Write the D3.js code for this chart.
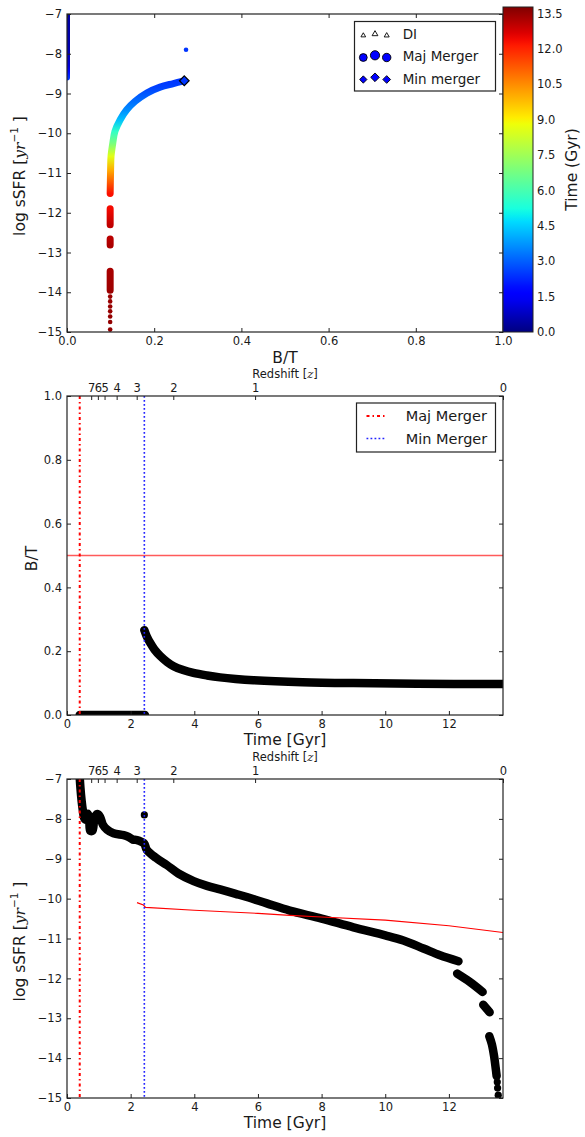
<!DOCTYPE html>
<html><head><meta charset="utf-8">
<script src="https://cdn.jsdelivr.net/npm/d3@7"></script>
<style>
body{margin:0;background:#fff}
svg{display:block}
text{font-family:"DejaVu Sans",sans-serif;fill:#1a1a1a}
</style>
</head><body><script>
// ---------------- DATA ----------------
// Panel 1: B/T vs log sSFR coloured by time
const btTicks = [0, 0.2, 0.4, 0.6, 0.8, 1.0];
const ssfrTicks = [-7, -8, -9, -10, -11, -12, -13, -14, -15];
const cbTicks = [0, 1.5, 3, 4.5, 6, 7.5, 9, 10.5, 12, 13.5];
const cbMax = 13.77;

const p1DiskBT   = [0, 0, 0, 0, 0];
const p1DiskSSFR = [-6.9, -7.9, -8.3, -8.45, -8.6];
const p1DiskTime = [0.4, 0.6, 1.0, 1.8, 2.4];

const p1BT   = [0.269, 0.244, 0.2135, 0.183, 0.156, 0.137, 0.122, 0.110, 0.105, 0.101, 0.100, 0.099, null, 0.099, 0.099, null, 0.099, 0.099, null, 0.099, 0.099];
const p1SSFR = [-8.68, -8.75, -8.84, -8.99, -9.2, -9.41, -9.66, -9.95, -10.25, -10.58, -10.92, -11.515, null, -11.9, -12.3, null, -12.66, -12.81, null, -13.47, -13.95];
const p1Time = [2.45, 2.5, 2.6, 2.85, 3.2, 3.6, 4.3, 5.6, 6.8, 8.6, 10.0, 12.3, null, 12.4, 13.0, null, 13.1, 13.25, null, 13.3, 13.42];

const p1DotBT   = [0.099, 0.099, 0.099, 0.099, 0.099, 0.099, 0.099];
const p1DotSSFR = [-14.11, -14.23, -14.36, -14.48, -14.61, -14.75, -14.94];
const p1DotTime = [13.45, 13.47, 13.49, 13.5, 13.52, 13.54, 13.56];

const outlierTime = 2.43, outlierBT = 0.273, outlierSSFR = -7.9;
const minMergerBT = 0.269, minMergerSSFR = -8.68, minMergerTimeP1 = 2.45;

const legend1Labels = ["DI", "Maj Merger", "Min merger"];

// Panels 2 & 3: vs time
const timeTicks = [0, 2, 4, 6, 8, 10, 12];
const timeMax = 13.7;
const btYTicks = [0, 0.2, 0.4, 0.6, 0.8, 1.0];
const redshiftLabels = ["7", "6", "5", "4", "3", "2", "1", "0"];
const redshiftTimes  = [0.76, 0.97, 1.18, 1.56, 2.19, 3.34, 5.91, 13.7];
const majMergerTime = 0.4;
const minMergerTime = 2.43;
const btThreshold = 0.5;

const p2Time = [0.4, 2.45, null, 2.43, 2.5, 2.62, 2.75, 2.93, 3.15, 3.35, 3.65, 3.97, 4.4, 4.81, 5.3, 5.86, 7.4, 9.0, 11.0, 13.7];
const p2BT   = [0, 0, null, 0.266, 0.248, 0.225, 0.205, 0.185, 0.166, 0.153, 0.141, 0.132, 0.124, 0.118, 0.113, 0.109, 0.103, 0.100, 0.098, 0.097];

const p3Time = [0.38, 0.42, 0.46, 0.5, 0.54, 0.6, 0.65, 0.7, 0.73, 0.8, 0.85, 0.9, 0.96, 1.04, 1.13, 1.26, 1.46, 1.78, 1.93, 2.07, 2.2, 2.35, 2.43, 2.51, 2.8, 3.14, 3.5, 3.98, 4.4, 4.81, 5.3, 5.65, 6.28, 7.0, 8.0, 9.0, 10.0, 10.57, 11.2, 11.72, 12.3,
                null, 12.26, 12.66, 13.06, null, 13.08, 13.28, null, 13.27, 13.35, 13.42, 13.47, 13.5];
const p3SSFR = [-6.7, -7.2, -7.55, -7.8, -7.98, -8.02, -7.87, -8.05, -8.3, -8.3, -8.05, -7.92, -7.88, -7.95, -8.15, -8.27, -8.36, -8.41, -8.45, -8.52, -8.53, -8.58, -8.62, -8.78, -8.98, -9.16, -9.37, -9.56, -9.68, -9.77, -9.88, -9.96, -10.12, -10.3, -10.5, -10.72, -10.92, -11.05, -11.25, -11.42, -11.57,
                null, -11.88, -12.09, -12.34, null, -12.66, -12.85, null, -13.45, -13.65, -13.95, -14.25, -14.45];
const p3DotTime = [2.43, 13.52, 13.53, 13.55];
const p3DotSSFR = [-7.9, -14.6, -14.75, -14.93];

const p3RefTime = [2.2, 2.4, 2.47, 4, 6, 7, 8, 10, 12, 13.7];
const p3RefSSFR = [-10.1, -10.16, -10.22, -10.29, -10.37, -10.42, -10.46, -10.54, -10.68, -10.85];

const legend2Labels = ["Maj Merger", "Min Merger"];

// ---------------- HELPERS ----------------
const jetR = d3.scaleLinear().domain([0, 0.35, 0.66, 0.89, 1]).range([0, 0, 1, 1, 0.5]).clamp(true);
const jetG = d3.scaleLinear().domain([0, 0.125, 0.375, 0.64, 0.91, 1]).range([0, 0, 1, 1, 0, 0]).clamp(true);
const jetB = d3.scaleLinear().domain([0, 0.11, 0.34, 0.65, 1]).range([0.5, 1, 1, 0, 0]).clamp(true);
const tNorm = d3.scaleLinear().domain([0, cbMax]).range([0, 1]).clamp(true);
const jet = t => { const v = tNorm(t); return d3.rgb(255 * jetR(v), 255 * jetG(v), 255 * jetB(v)).formatHex(); };

const W = 585, H = 1137;
const svg = d3.select("body").append("svg").attr("width", W).attr("height", H);
const defs = svg.append("defs");
const FONT = '"DejaVu Sans", sans-serif';
const AX = "#222";

const P1 = {l: 67, r: 503, t: 14, b: 332, id: 1};
const P2 = {l: 67, r: 503, t: 396, b: 715, id: 2};
const P3 = {l: 67, r: 503, t: 779, b: 1098, id: 3};

function clip(P) {
  defs.append("clipPath").attr("id", "c" + P.id).append("rect")
    .attr("x", P.l).attr("y", P.t).attr("width", P.r - P.l).attr("height", P.b - P.t);
}
clip(P1); clip(P2); clip(P3);

function styleAxis(g, size) {
  g.attr("font-family", FONT).attr("font-size", size).attr("color", AX);
  g.select(".domain").remove();
  g.selectAll("text").attr("fill", "#1a1a1a");
}

function frame(P) {
  svg.append("rect").attr("x", P.l).attr("y", P.t).attr("width", P.r - P.l).attr("height", P.b - P.t)
    .attr("fill", "none").attr("stroke", AX).attr("stroke-width", 1.2);
}

function yLabelSSFR(cx, cy) {
  const t = svg.append("text").attr("transform", `translate(${cx},${cy}) rotate(-90)`)
    .attr("text-anchor", "middle").attr("dominant-baseline", "central").attr("font-size", 15.5);
  t.append("tspan").text("log sSFR [");
  t.append("tspan").attr("font-family", '"DejaVu Serif", serif').attr("font-style", "italic").text("yr");
  t.append("tspan").attr("dy", -6).attr("font-size", 10.5).text("−1");
  t.append("tspan").attr("dy", 6).text(" ]");
}

function redshiftAxis(P, x) {
  const g = svg.append("g").attr("transform", `translate(0,${P.t})`)
    .call(d3.axisTop(x).tickValues(redshiftTimes).tickFormat((d, i) => redshiftLabels[i]).tickSize(-4).tickPadding(4));
  styleAxis(g, 11.5);
  const t = svg.append("text").attr("x", (P.l + P.r) / 2).attr("y", P.t - 18)
    .attr("text-anchor", "middle").attr("font-size", 11.5);
  t.append("tspan").text("Redshift [");
  t.append("tspan").attr("font-family", '"DejaVu Serif", serif').attr("font-style", "italic").text("z");
  t.append("tspan").text("]");
}

function mergerLines(P, x) {
  const g = svg.append("g").attr("clip-path", "url(#c" + P.id + ")");
  g.append("line").attr("x1", x(majMergerTime)).attr("x2", x(majMergerTime)).attr("y1", P.t).attr("y2", P.b)
    .attr("stroke", "#ff0000").attr("stroke-width", 2).attr("stroke-dasharray", "3,3,1.5,3");
  g.append("line").attr("x1", x(minMergerTime)).attr("x2", x(minMergerTime)).attr("y1", P.t).attr("y2", P.b)
    .attr("stroke", "#2222ff").attr("stroke-width", 1.6).attr("stroke-dasharray", "1.8,2.2");
}

// ---------------- PANEL 1 ----------------
const x1 = d3.scaleLinear().domain([0, 1]).range([P1.l, P1.r]);
const y1 = d3.scaleLinear().domain([-15, -7]).range([P1.b, P1.t]);

const mainPts = p1SSFR.map((s, i) => ({s, t: p1Time[i]})).filter(d => d.s != null)
  .concat(p1DotSSFR.map((s, i) => ({s, t: p1DotTime[i]})));
const gy1 = y1(d3.max(mainPts, d => d.s)), gy2 = y1(d3.min(mainPts, d => d.s));
const g1 = defs.append("linearGradient").attr("id", "gMain").attr("gradientUnits", "userSpaceOnUse")
  .attr("x1", 0).attr("x2", 0).attr("y1", gy1).attr("y2", gy2);
mainPts.sort((a, b) => b.s - a.s).forEach(d => {
  g1.append("stop").attr("offset", (y1(d.s) - gy1) / (gy2 - gy1)).attr("stop-color", jet(d.t));
});
const dy1 = y1(p1DiskSSFR[0]), dy2 = y1(p1DiskSSFR[p1DiskSSFR.length - 1]);
const gd = defs.append("linearGradient").attr("id", "gDisk").attr("gradientUnits", "userSpaceOnUse")
  .attr("x1", 0).attr("x2", 0).attr("y1", dy1).attr("y2", dy2);
p1DiskSSFR.forEach((s, i) => gd.append("stop").attr("offset", (y1(s) - dy1) / (dy2 - dy1)).attr("stop-color", jet(p1DiskTime[i])));

const p1g = svg.append("g").attr("clip-path", "url(#c1)");
const line1 = d3.line().defined(d => d[1] != null).x(d => x1(d[0])).y(d => y1(d[1])).curve(d3.curveCatmullRom);
p1g.append("path").attr("d", line1(p1DiskBT.map((b, i) => [b, p1DiskSSFR[i]])))
  .attr("fill", "none").attr("stroke", "url(#gDisk)").attr("stroke-width", 6).attr("stroke-linecap", "round");
p1g.append("path").attr("d", line1(p1BT.map((b, i) => [b, p1SSFR[i]])))
  .attr("fill", "none").attr("stroke", "url(#gMain)").attr("stroke-width", 7).attr("stroke-linecap", "round");
p1g.selectAll("circle.dot").data(p1DotSSFR).join("circle").attr("class", "dot")
  .attr("cx", (d, i) => x1(p1DotBT[i])).attr("cy", d => y1(d)).attr("r", 2.3)
  .attr("fill", (d, i) => jet(p1DotTime[i]));
p1g.append("circle").attr("cx", x1(outlierBT)).attr("cy", y1(outlierSSFR)).attr("r", 2.3).attr("fill", jet(outlierTime));
const dSym = d3.symbol().type(d3.symbolDiamond2).size(60);
p1g.append("path").attr("d", dSym()).attr("transform", `translate(${x1(minMergerBT)},${y1(minMergerSSFR)})`)
  .attr("fill", jet(minMergerTimeP1)).attr("stroke", "#000").attr("stroke-width", 1.2);

frame(P1);
styleAxis(svg.append("g").attr("transform", `translate(0,${P1.b})`)
  .call(d3.axisBottom(x1).tickValues(btTicks).tickFormat(d3.format(".1f")).tickSize(-4).tickPadding(5)), 11.5);
styleAxis(svg.append("g").attr("transform", `translate(0,${P1.t})`)
  .call(d3.axisTop(x1).tickValues(btTicks).tickFormat("").tickSize(-4)), 11.5);
styleAxis(svg.append("g").attr("transform", `translate(${P1.l},0)`)
  .call(d3.axisLeft(y1).tickValues(ssfrTicks).tickFormat(d3.format("d")).tickSize(-4).tickPadding(5)), 11.5);
styleAxis(svg.append("g").attr("transform", `translate(${P1.r},0)`)
  .call(d3.axisRight(y1).tickValues(ssfrTicks).tickFormat("").tickSize(-4)), 11.5);
svg.append("text").attr("x", (P1.l + P1.r) / 2).attr("y", P1.b + 31).attr("text-anchor", "middle")
  .attr("font-size", 15.5).text("B/T");
yLabelSSFR(20, (P1.t + P1.b) / 2 + 3);

// colorbar
const cb = {l: 503, r: 533, t: 7, b: 332};
const cbScale = d3.scaleLinear().domain([0, cbMax]).range([cb.b, cb.t]);
const gcb = defs.append("linearGradient").attr("id", "gCb").attr("x1", 0).attr("x2", 0).attr("y1", 1).attr("y2", 0);
d3.range(0, 1.0001, 0.02).forEach(v => gcb.append("stop").attr("offset", v).attr("stop-color", jet(v * cbMax)));
svg.append("rect").attr("x", cb.l).attr("y", cb.t).attr("width", cb.r - cb.l).attr("height", cb.b - cb.t)
  .attr("fill", "url(#gCb)").attr("stroke", AX).attr("stroke-width", 1);
styleAxis(svg.append("g").attr("transform", `translate(${cb.r},0)`)
  .call(d3.axisRight(cbScale).tickValues(cbTicks).tickFormat(d3.format(".1f")).tickSize(0).tickPadding(4)), 11.5);
svg.append("text").attr("transform", `translate(572,${(cb.t + cb.b) / 2}) rotate(-90)`)
  .attr("text-anchor", "middle").attr("dominant-baseline", "central").attr("font-size", 15.5).text("Time (Gyr)");

// legend 1
const L1 = svg.append("g");
L1.append("rect").attr("x", 354.5).attr("y", 21.5).attr("width", 141).attr("height", 69.5)
  .attr("fill", "#fff").attr("stroke", AX).attr("stroke-width", 1.2);
const lx = [363.3, 375, 386.7];
const triSizes = [16, 24, 18], triDy = [0, -1.5, 0];
const cirR = [3.9, 4.6, 4.2], cirDy = [0, -2.2, 0];
const diaS = [34, 48, 38], diaDy = [0, -2.2, 0];
lx.forEach((x, i) => {
  L1.append("path").attr("d", d3.symbol().type(d3.symbolTriangle2).size(triSizes[i])())
    .attr("transform", `translate(${x},${35.5 + triDy[i]})`).attr("fill", "#fff").attr("stroke", "#000").attr("stroke-width", 0.9);
  L1.append("circle").attr("cx", x).attr("cy", 57.5 + cirDy[i]).attr("r", cirR[i])
    .attr("fill", "#0000ff").attr("stroke", "#000").attr("stroke-width", 0.9);
  L1.append("path").attr("d", d3.symbol().type(d3.symbolDiamond2).size(diaS[i])())
    .attr("transform", `translate(${x},${79.5 + diaDy[i]})`).attr("fill", "#0000ff").attr("stroke", "#000").attr("stroke-width", 0.9);
});
[34, 55.5, 78.5].forEach((yy, i) => L1.append("text").attr("x", 402.7).attr("y", yy)
  .attr("dominant-baseline", "central").attr("font-size", 13.5).text(legend1Labels[i]));

// ---------------- PANEL 2 ----------------
const x2 = d3.scaleLinear().domain([0, timeMax]).range([P2.l, P2.r]);
const y2 = d3.scaleLinear().domain([0, 1]).range([P2.b, P2.t]);
const p2g = svg.append("g").attr("clip-path", "url(#c2)");
p2g.append("line").attr("x1", P2.l).attr("x2", P2.r).attr("y1", y2(btThreshold)).attr("y2", y2(btThreshold))
  .attr("stroke", "#ff5a5a").attr("stroke-width", 1.4);
const line2 = d3.line().defined(d => d[1] != null).x(d => x2(d[0])).y(d => y2(d[1])).curve(d3.curveCatmullRom);
p2g.append("path").attr("d", line2(p2Time.map((t, i) => [t, p2BT[i]])))
  .attr("fill", "none").attr("stroke", "#000").attr("stroke-width", 8.5).attr("stroke-linecap", "round");
mergerLines(P2, x2);
frame(P2);
styleAxis(svg.append("g").attr("transform", `translate(0,${P2.b})`)
  .call(d3.axisBottom(x2).tickValues(timeTicks).tickFormat(d3.format("d")).tickSize(-4).tickPadding(5)), 11.5);
styleAxis(svg.append("g").attr("transform", `translate(${P2.l},0)`)
  .call(d3.axisLeft(y2).tickValues(btYTicks).tickFormat(d3.format(".1f")).tickSize(-4).tickPadding(5)), 11.5);
styleAxis(svg.append("g").attr("transform", `translate(${P2.r},0)`)
  .call(d3.axisRight(y2).tickValues(btYTicks).tickFormat("").tickSize(-4)), 11.5);
redshiftAxis(P2, x2);
svg.append("text").attr("x", (P2.l + P2.r) / 2).attr("y", P2.b + 30).attr("text-anchor", "middle")
  .attr("font-size", 15.5).text("Time [Gyr]");
svg.append("text").attr("transform", `translate(32,${(P2.t + P2.b) / 2 + 3}) rotate(-90)`)
  .attr("text-anchor", "middle").attr("dominant-baseline", "central").attr("font-size", 15.5).text("B/T");

// legend 2
const L2 = svg.append("g");
L2.append("rect").attr("x", 356.5).attr("y", 403).attr("width", 139).attr("height", 49)
  .attr("fill", "#fff").attr("stroke", AX).attr("stroke-width", 1.2);
L2.append("line").attr("x1", 366.5).attr("x2", 386).attr("y1", 416).attr("y2", 416)
  .attr("stroke", "#ff0000").attr("stroke-width", 2).attr("stroke-dasharray", "3,3,1.5,3");
L2.append("line").attr("x1", 366.5).attr("x2", 386).attr("y1", 438.5).attr("y2", 438.5)
  .attr("stroke", "#2222ff").attr("stroke-width", 1.6).attr("stroke-dasharray", "1.8,2.2");
[416, 438.5].forEach((yy, i) => L2.append("text").attr("x", 405.7).attr("y", yy)
  .attr("dominant-baseline", "central").attr("font-size", 14.5).text(legend2Labels[i]));

// ---------------- PANEL 3 ----------------
const x3 = d3.scaleLinear().domain([0, timeMax]).range([P3.l, P3.r]);
const y3 = d3.scaleLinear().domain([-15, -7]).range([P3.b, P3.t]);
const p3g = svg.append("g").attr("clip-path", "url(#c3)");
const line3 = d3.line().defined(d => d[1] != null).x(d => x3(d[0])).y(d => y3(d[1])).curve(d3.curveCatmullRom);
p3g.append("path").attr("d", line3(p3Time.map((t, i) => [t, p3SSFR[i]])))
  .attr("fill", "none").attr("stroke", "#000").attr("stroke-width", 8.5).attr("stroke-linecap", "round").attr("stroke-linejoin", "round");
p3g.selectAll("circle.dot").data(p3DotTime).join("circle").attr("class", "dot")
  .attr("cx", d => x3(d)).attr("cy", (d, i) => y3(p3DotSSFR[i])).attr("r", 3.6).attr("fill", "#000");
p3g.append("path").attr("d", d3.line().x(d => x3(d[0])).y(d => y3(d[1]))(p3RefTime.map((t, i) => [t, p3RefSSFR[i]])))
  .attr("fill", "none").attr("stroke", "#ff0000").attr("stroke-width", 1.1);
mergerLines(P3, x3);
frame(P3);
styleAxis(svg.append("g").attr("transform", `translate(0,${P3.b})`)
  .call(d3.axisBottom(x3).tickValues(timeTicks).tickFormat(d3.format("d")).tickSize(-4).tickPadding(5)), 11.5);
styleAxis(svg.append("g").attr("transform", `translate(${P3.l},0)`)
  .call(d3.axisLeft(y3).tickValues(ssfrTicks).tickFormat(d3.format("d")).tickSize(-4).tickPadding(5)), 11.5);
styleAxis(svg.append("g").attr("transform", `translate(${P3.r},0)`)
  .call(d3.axisRight(y3).tickValues(ssfrTicks).tickFormat("").tickSize(-4)), 11.5);
redshiftAxis(P3, x3);
svg.append("text").attr("x", (P3.l + P3.r) / 2).attr("y", P3.b + 30).attr("text-anchor", "middle")
  .attr("font-size", 15.5).text("Time [Gyr]");
yLabelSSFR(20, (P3.t + P3.b) / 2 + 3);
</script></body></html>
